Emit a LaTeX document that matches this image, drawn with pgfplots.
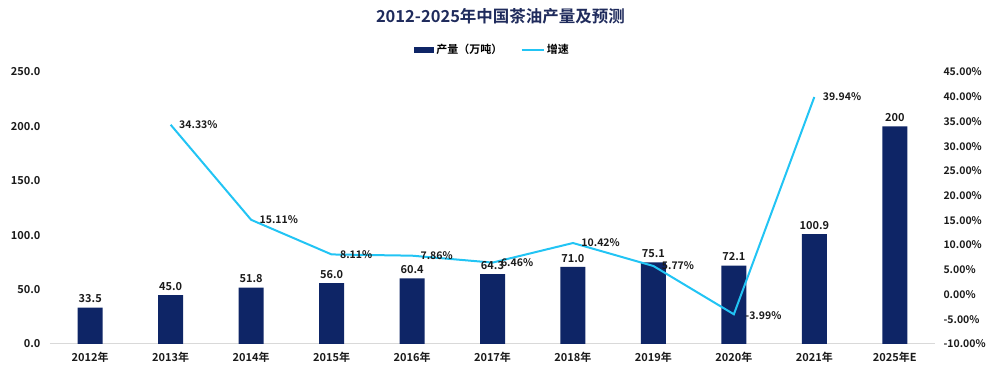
\documentclass[border=0pt]{standalone}
\usepackage{pgfplots}
\pgfplotsset{compat=1.18}
\usepackage{fontspec}
\setmainfont{Noto Sans CJK SC}[BoldFont={Noto Sans CJK SC Bold}]
\definecolor{navy}{HTML}{0E2566}
\definecolor{cyanl}{HTML}{22C4F4}
\definecolor{titlec}{HTML}{1F2B5C}
\definecolor{txt}{HTML}{1A1A1A}
\pgfplotsset{
  base/.style={at={(0,0)}, anchor=south west, scale only axis,
    width=885pt, height=272pt, xmin=-0.5, xmax=10.5, clip=false},
  leftscale/.style={ymin=0, ymax=250},
  rightscale/.style={ymin=-10, ymax=45},
}
\begin{document}
\begin{tikzpicture}[x=1pt,y=1pt]
\path[use as bounding box] (-50,-31) rectangle (947,344);
% bars
\begin{axis}[base, leftscale,
  ytick={0,50,...,250},
  xtick={0,...,10},
  xticklabels={2012年,2013年,2014年,2015年,2016年,2017年,2018年,2019年,2020年,2021年,2025年E},
  axis x line*=bottom, axis y line*=left,
  y axis line style={draw=none},
  x axis line style={draw=black!15, line width=1pt},
  major tick length=0pt,
  /pgf/number format/assume math mode=true,
  yticklabel style={/pgf/number format/fixed, /pgf/number format/fixed zerofill, /pgf/number format/precision=1, xshift=-6pt},
  ticklabel style={font=\fontsize{11}{13}\selectfont\bfseries, text=txt},
  xticklabel style={yshift=-5pt},
  title={\fontsize{16.5}{19}\selectfont\bfseries 2012-2025年中国茶油产量及预测},
  title style={at={(0.5,1)}, anchor=center, yshift=50pt, xshift=8pt, text=titlec},
  legend style={at={(0.5,1)}, anchor=center, yshift=22pt, draw=none, fill=none,
    font=\fontsize{11}{13}\selectfont\bfseries, legend columns=2,
    /tikz/every even column/.append style={column sep=16pt}},
]
\addplot[ybar, bar width=25pt, fill=navy, draw=none,
  legend image code/.code={\fill[navy] (0pt,-3pt) rectangle (20pt,3pt);}]
  coordinates {(0,33.5) (1,45.0) (2,51.8) (3,56.0) (4,60.4) (5,64.3) (6,71.0) (7,75.1) (8,72.1) (9,100.9) (10,200)};
\addlegendentry{产量（万吨）}
\addlegendimage{legend image code/.code={\draw[cyanl, line width=2.5pt] (0pt,0pt) -- (22pt,0pt);}}
\addlegendentry{增速}
\end{axis}
% line
\begin{axis}[base, rightscale,
  ytick={-10,-5,...,45},
  axis y line*=right, axis x line=none,
  y axis line style={draw=none},
  major tick length=0pt,
  /pgf/number format/assume math mode=true,
  yticklabel={\pgfmathprintnumber[fixed,fixed zerofill,precision=2]{\tick}\%},
  yticklabel style={font=\fontsize{10.5}{12}\selectfont\bfseries, text=txt, xshift=5pt},
]
\addplot[cyanl, line width=2pt, mark=none]
  coordinates {(1,34.33) (2,15.11) (3,8.11) (4,7.86) (5,6.46) (6,10.42) (7,5.77) (8,-3.99) (9,39.94)};
\end{axis}
% bar labels
\begin{axis}[base, leftscale, hide axis]
\addplot[draw=none, mark=none, point meta=explicit symbolic,
  nodes near coords, every node near coord/.append style={anchor=south, font=\fontsize{11}{13}\selectfont\bfseries, text=txt, yshift=1pt}]
  coordinates {(0,33.5)[33.5] (1,45.0)[45.0] (2,51.8)[51.8] (3,56.0)[56.0] (4,60.4)[60.4] (5,64.3)[64.3] (6,71.0)[71.0] (7,75.1)[75.1] (8,72.1)[72.1] (9,100.9)[100.9] (10,200)[200]};
\end{axis}
% line labels
\begin{axis}[base, rightscale, hide axis]
\addplot[draw=none, mark=none, point meta=explicit symbolic,
  nodes near coords, every node near coord/.append style={anchor=west, xshift=5pt, font=\fontsize{10.5}{12}\selectfont\bfseries, text=txt}]
  coordinates {(1,34.33)[34.33\%] (2,15.11)[15.11\%] (3,8.11)[8.11\%] (4,7.86)[7.86\%] (5,6.46)[6.46\%] (6,10.42)[10.42\%] (7,5.77)[5.77\%] (9,39.94)[39.94\%]};
\addplot[draw=none, mark=none, point meta=explicit symbolic,
  nodes near coords, every node near coord/.append style={anchor=west, xshift=8pt, yshift=-1pt, font=\fontsize{10.5}{12}\selectfont\bfseries, text=txt}]
  coordinates {(8,-3.99)[-3.99\%]};
\end{axis}
\end{tikzpicture}
\end{document}
